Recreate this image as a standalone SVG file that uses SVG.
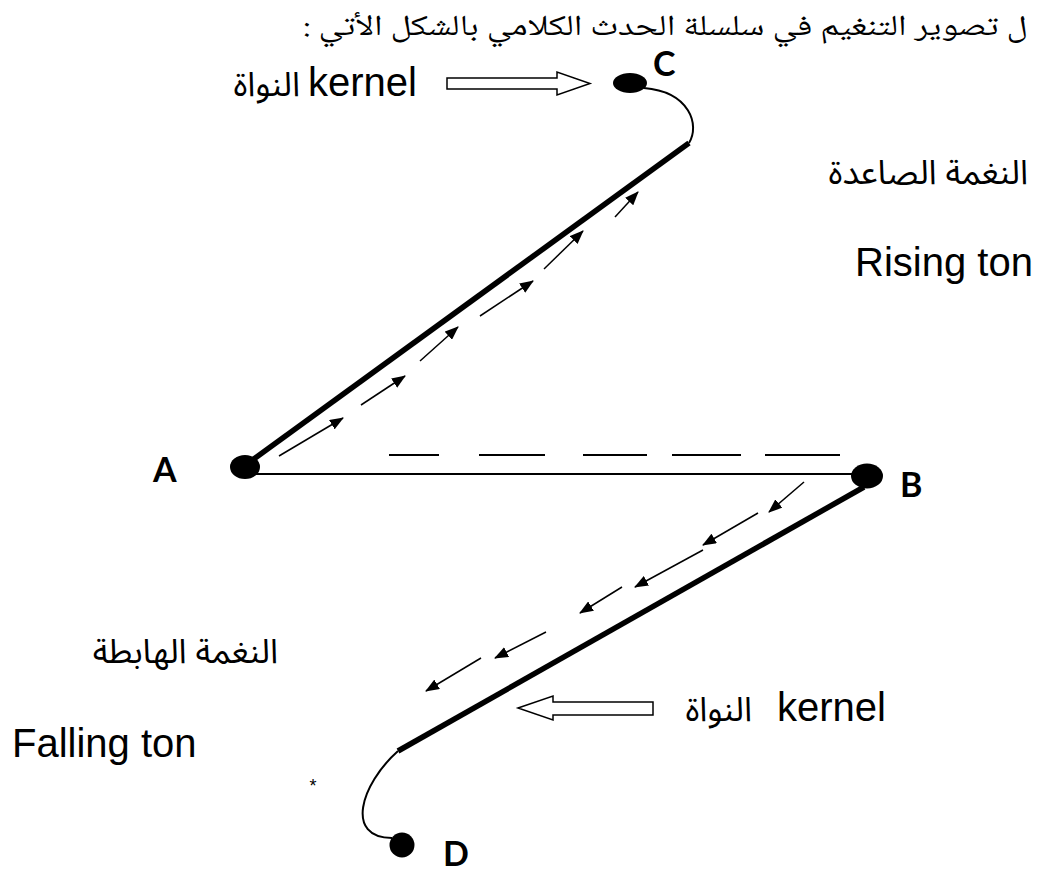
<svg xmlns="http://www.w3.org/2000/svg" width="1044" height="872" viewBox="0 0 1044 872">
<defs>
<marker id="ah" markerUnits="userSpaceOnUse" markerWidth="14" markerHeight="11" refX="13" refY="5.5" orient="auto">
<path d="M0,0 L14,5.5 L0,11 z" fill="#000"/>
</marker>
<style>
.lbl{font-family:"Liberation Sans",Arial,sans-serif;font-size:40px;fill:#000}
.ar{font-family:"Noto Sans Arabic","DejaVu Sans",sans-serif;font-size:34px;fill:#000}
.head{font-family:"Noto Naskh Arabic","Noto Serif Arabic","DejaVu Serif","DejaVu Sans",serif;font-size:29px;fill:#000}
.let{font-family:Lato,"Open Sans",sans-serif;font-weight:700;font-size:34px;fill:#000}
.thick{stroke:#000;stroke-width:5.5;fill:none}
.thin{stroke:#000;stroke-width:2;fill:none}
.dash{stroke:#000;stroke-width:2}
.sa{stroke:#000;stroke-width:1.5;fill:none;marker-end:url(#ah)}
.hollow{fill:#fff;stroke:#000;stroke-width:1.5}
.dot{fill:#000}
</style>
</defs>
<rect width="1044" height="872" fill="#fff"/>

<g id="heading" transform="translate(1031,35) scale(1.24,1)">
<text class="head" x="-294.8" y="0" text-anchor="middle" direction="rtl" unicode-bidi="embed">ل تصوير التنغيم في سلسلة الحدث الكلامي بالشكل الأتي :</text>
</g>

<g id="connectors">
<path class="thin" d="M644,88 C690,92 700,125 689,143"/>
<line class="thick" x1="689" y1="143" x2="247" y2="464"/>
<line class="thin" x1="245" y1="474" x2="867" y2="474"/>
<g class="dash">
<line x1="389" y1="455" x2="439" y2="455"/>
<line x1="479" y1="455" x2="545" y2="455"/>
<line x1="583" y1="455" x2="647" y2="455"/>
<line x1="672" y1="455" x2="741" y2="455"/>
<line x1="765" y1="455" x2="840" y2="455"/>
</g>
<line class="thick" x1="864" y1="487" x2="398" y2="751"/>
<path class="thin" d="M398,751 C360,785 345,838 392,838"/>
<line class="sa" x1="279" y1="456" x2="343" y2="418"/>
<line class="sa" x1="361" y1="405" x2="405" y2="376"/>
<line class="sa" x1="420" y1="361" x2="458" y2="327"/>
<line class="sa" x1="480" y1="316" x2="533" y2="281"/>
<line class="sa" x1="544" y1="269" x2="583" y2="231"/>
<line class="sa" x1="615" y1="217" x2="638" y2="192"/>
<line class="sa" x1="804" y1="482" x2="769" y2="512"/>
<line class="sa" x1="758" y1="513" x2="703" y2="545"/>
<line class="sa" x1="703" y1="550" x2="635" y2="587"/>
<line class="sa" x1="622" y1="587" x2="580" y2="613"/>
<line class="sa" x1="546" y1="632" x2="495" y2="658"/>
<line class="sa" x1="481" y1="658" x2="426" y2="691"/>
<polygon class="hollow" points="447,78 557,78 557,72 590,83.5 557,95 557,89 447,89"/>
<polygon class="hollow" points="518,708 553,696 553,702 653,702 653,715 553,715 553,720"/>
</g>

<g id="node-A">
<ellipse class="dot" cx="245" cy="467" rx="15" ry="12"/>
<text class="let" x="153" y="482">A</text>
</g>
<g id="node-B">
<ellipse class="dot" cx="867" cy="476" rx="16" ry="12.5"/>
<text class="let" x="900" y="497">B</text>
</g>
<g id="node-C">
<ellipse class="dot" cx="630" cy="83" rx="17" ry="10"/>
<text class="let" x="653" y="76">C</text>
</g>
<g id="node-D">
<circle class="dot" cx="402" cy="845" r="12.5"/>
<text class="let" x="443" y="866">D</text>
</g>

<g id="labels">
<text class="ar" x="300" y="96" text-anchor="end">النواة</text>
<text class="lbl" x="308" y="96">kernel</text>
<text class="ar" x="1028" y="184" text-anchor="end">النغمة الصاعدة</text>
<text class="lbl" x="855" y="276">Rising ton</text>
<text class="ar" x="278" y="663" text-anchor="end">النغمة الهابطة</text>
<text class="lbl" x="12" y="757">Falling ton</text>
<text class="ar" x="752" y="721" text-anchor="end">النواة</text>
<text class="lbl" x="777" y="721">kernel</text>
<text x="313" y="792" text-anchor="middle" style="font-family:'Liberation Sans',sans-serif;font-size:18px">*</text>
</g>
</svg>
